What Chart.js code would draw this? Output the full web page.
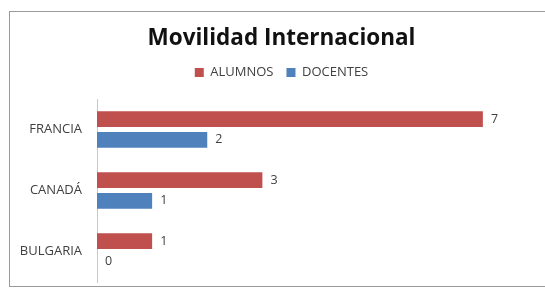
<!DOCTYPE html>
<html>
<head>
<meta charset="utf-8">
<script src="https://cdn.jsdelivr.net/npm/chart.js@4.4.0/dist/chart.umd.min.js"></script>
<style>
  html, body { margin: 0; padding: 0; background: #fff; }
  #wrap { position: relative; width: 545px; height: 292px; }
  #frame { position: absolute; left: 9px; top: 11px; width: 545px; height: 276px; border: 1px solid #9a9a9a; box-sizing: border-box; }
  canvas { position: absolute; left: 0; top: 0; }
</style>
</head>
<body>
<div id="wrap">
  <div id="frame"></div>
  <canvas id="c" width="545" height="292"></canvas>
</div>
<script>
const categories = ["FRANCIA", "CANADÁ", "BULGARIA"];
const alumnos = [7, 3, 1];
const docentes = [2, 1, 0];
const seriesNames = ["ALUMNOS", "DOCENTES"];
const chartTitle = "Movilidad Internacional";

const FONT = "'Open Sans', 'Liberation Sans', sans-serif";

const valueLabels = {
  id: 'valueLabels',
  afterDatasetsDraw(chart) {
    const ctx = chart.ctx;
    ctx.save();
    ctx.font = "12.5px " + FONT;
    ctx.fillStyle = "#404040";
    ctx.textAlign = "left";
    ctx.textBaseline = "middle";
    chart.data.datasets.forEach((ds, i) => {
      const meta = chart.getDatasetMeta(i);
      meta.data.forEach((el, j) => {
        ctx.fillText(String(ds.data[j]), el.x + 8, el.y);
      });
    });
    ctx.restore();
  }
};

// extra space below the legend, and centre title/legend over the outer frame
const layoutTweaks = {
  id: 'layoutTweaks',
  beforeInit(chart) {
    const lg = chart.legend;
    if (lg && !lg.$patched) {
      const f = lg.fit;
      lg.fit = function () { f.call(this); this.height += 10; };
      lg.$patched = true;
    }
  },
  afterLayout(chart) {
    [chart.titleBlock, chart.legend].forEach(b => {
      if (b) { b.left += 8; b.right += 8; }
    });
  }
};

new Chart(document.getElementById('c'), {
  type: 'bar',
  data: {
    labels: categories,
    datasets: [
      { label: seriesNames[0], data: alumnos, backgroundColor: '#C0504D', categoryPercentage: 0.683, barPercentage: 0.76 },
      { label: seriesNames[1], data: docentes, backgroundColor: '#4F81BD', categoryPercentage: 0.683, barPercentage: 0.76 }
    ]
  },
  options: {
    indexAxis: 'y',
    responsive: false,
    animation: false,
    layout: { padding: { left: 9, right: 7, top: 0, bottom: 10 } },
    plugins: {
      title: {
        display: true,
        text: chartTitle,
        color: '#111',
        font: { family: FONT, size: 22.5, weight: 'bold', lineHeight: '20px' },
        padding: { top: 29, bottom: 4 }
      },
      legend: {
        display: true,
        labels: {
          boxWidth: 9, boxHeight: 9, padding: 13,
          color: '#404040',
          font: { family: FONT, size: 13 }
        }
      },
      tooltip: { enabled: false }
    },
    scales: {
      x: { display: false, min: 0, max: 8 },
      y: {
        grid: { display: false, drawTicks: false },
        border: { display: true, color: '#c8c8c8', width: 1 },
        ticks: { color: '#404040', padding: 15, font: { family: FONT, size: 13 } },
        afterFit(scale) { scale.width = 88; scale.paddingTop = 0; scale.paddingBottom = 0; }
      }
    }
  },
  plugins: [valueLabels, layoutTweaks]
});
</script>
</body>
</html>
